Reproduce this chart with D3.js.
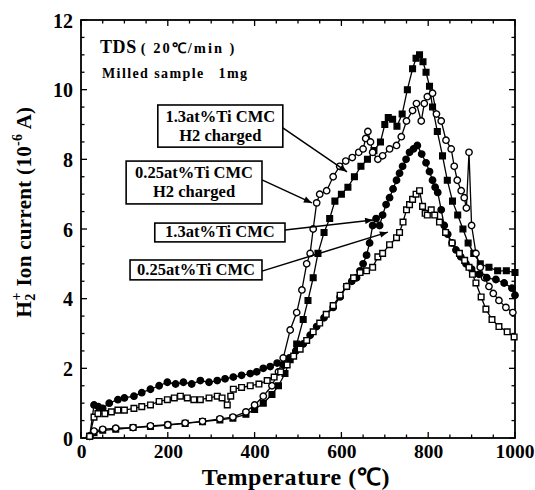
<!DOCTYPE html>
<html><head><meta charset="utf-8">
<script src="https://cdn.jsdelivr.net/npm/d3@7"></script>
<style>body{margin:0;background:#fff}text{font-family:"Liberation Serif","Times New Roman",serif;font-weight:bold;fill:#000}</style>
</head><body><svg id="c" width="535" height="490"></svg>
<script>
// ---- data ----
const xTicks = [0,200,400,600,800,1000];
const yTicks = [0,2,4,6,8,10,12];

// 1.3at%Ti CMC H2 charged (filled squares)
const tA = [20,30,50,80,120,160,200,240,280,320,350,380,400,420,440,455,470,482,497,512,523,535,546,560,573,585,600,615,630,645,660,675,690,700,708,718,728,740,752,764,772,780,788,795,803,810,821,833,844,856,868,880,892,905,920,940,960,980,1000];
const vA = [0.05,0.15,0.22,0.25,0.3,0.33,0.37,0.42,0.47,0.52,0.57,0.68,0.82,1.0,1.25,1.5,1.85,2.25,2.7,3.4,3.95,4.6,5.3,5.9,6.3,6.8,7.0,7.2,7.5,7.8,8.0,8.25,8.5,9.0,9.2,9.15,8.95,9.3,10.0,10.6,10.9,11.0,10.8,10.5,10.1,9.5,8.8,8.1,7.4,6.8,6.4,6.0,5.6,5.3,5.0,4.9,4.8,4.8,4.75];

// 0.25at%Ti CMC H2 charged (open circles)
const tB = [20,30,50,80,120,160,200,240,280,320,350,380,400,420,440,455,466,482,497,509,520,528,535,543,550,566,581,596,610,625,640,650,656,661,667,672,684,695,711,727,738,750,764,773,784,791,798,810,819,830,841,853,860,867,876,883,888,894,900,910,920,930,940,950,963,979,995];
const vB = [0.05,0.2,0.25,0.28,0.3,0.35,0.38,0.43,0.48,0.55,0.6,0.75,0.95,1.2,1.5,1.9,2.3,3.1,3.6,4.25,5.0,5.3,6.0,6.75,7.0,7.1,7.5,7.8,7.95,8.05,8.2,8.3,8.6,8.8,8.5,8.2,8.0,8.1,8.3,8.4,8.65,9.1,9.4,9.6,9.1,9.6,9.8,9.9,9.3,9.1,8.55,8.3,7.8,7.4,7.1,6.9,6.6,8.2,6.1,5.3,4.9,4.6,4.35,4.15,3.95,3.75,3.6];

// 1.3at%Ti CMC (filled circles)
const tC = [20,30,40,50,65,85,100,122,140,160,180,199,218,236,255,275,295,314,332,351,370,390,405,420,436,452,466,480,495,512,528,543,560,581,597,612,624,635,643,650,658,665,672,680,688,695,703,711,719,727,734,741,749,757,766,775,785,795,803,810,816,822,830,837,845,855,864,875,887,900,917,935,956,975,993,1000];
const vC = [0.05,0.95,0.9,0.85,1.0,1.1,1.15,1.2,1.3,1.4,1.5,1.6,1.55,1.6,1.55,1.65,1.6,1.65,1.7,1.75,1.8,1.85,1.9,2.0,2.05,2.15,2.1,2.3,2.5,2.7,2.95,3.2,3.45,3.75,4.05,4.35,4.5,4.6,4.8,5.0,5.25,5.6,6.1,6.3,6.1,6.4,6.7,6.9,7.15,7.4,7.6,7.8,8.0,8.2,8.3,8.4,8.15,7.9,7.65,7.4,7.2,7.05,6.55,6.1,5.85,5.6,5.4,5.2,5.0,4.85,4.7,4.6,4.55,4.45,4.3,4.1];

// 0.25at%Ti CMC (open squares)
const tD = [20,30,39,55,70,85,100,122,140,160,180,199,215,229,245,260,275,295,314,325,337,345,351,370,390,410,429,445,460,475,490,505,520,535,550,565,581,597,612,628,643,658,672,684,695,711,727,734,742,750,757,764,772,780,787,793,798,807,815,826,840,855,872,884,894,902,910,922,933,947,963,982,998];
const vD = [0.05,0.6,0.7,0.7,0.75,0.8,0.8,0.85,0.9,0.95,1.05,1.1,1.15,1.2,1.15,1.1,1.1,1.15,1.2,1.15,0.95,1.2,1.4,1.45,1.5,1.55,1.65,1.75,1.9,2.1,2.35,2.55,2.8,3.05,3.3,3.55,3.8,4.1,4.35,4.6,4.75,4.8,4.9,5.2,5.3,5.55,5.75,5.9,6.2,6.55,6.7,6.85,7.0,7.1,6.65,6.45,6.4,6.55,6.4,6.2,5.9,5.6,5.3,5.1,4.9,4.7,4.45,4.05,3.7,3.4,3.2,3.05,2.9];

// annotations: label lines, box [T0,T1,v0,v1], arrow from [T,v] to [T,v]
const annLabels = [["1.3at%Ti CMC","H2 charged"],["0.25at%Ti CMC","H2 charged"],["1.3at%Ti CMC"],["0.25at%Ti CMC"]];
const annBoxes = [[177,465,9.56,8.35],[104,417,7.95,6.72],[170,470,6.17,5.63],[113,417,5.11,4.54]];
const annArrows = [[[465,8.9],[613,7.64]],[[417,7.41],[532,6.75]],[[470,5.97],[673,6.26]],[[417,4.79],[707,5.91]]];

// ---- drawing ----
const svg = d3.select("#c");
const x = d3.scaleLinear().domain([0,1000]).range([81,515]);
const y = d3.scaleLinear().domain([0,12]).range([438,20]);

// ticks
const g = svg.append("g");
const major = 6, minor = 3.5;
const xMinor = d3.range(0,1001,50), yMinor = d3.range(0,12.01,0.5);
xMinor.forEach(t=>{
  const L = (t%200===0)?major:minor;
  g.append("line").attr("x1",x(t)).attr("x2",x(t)).attr("y1",y(0)).attr("y2",y(0)-L).attr("stroke","#000").attr("stroke-width",1.3);
  g.append("line").attr("x1",x(t)).attr("x2",x(t)).attr("y1",y(12)).attr("y2",y(12)+L).attr("stroke","#000").attr("stroke-width",1.3);
});
yMinor.forEach(v=>{
  const L = (Math.abs(v%2)<1e-6)?major:minor;
  g.append("line").attr("y1",y(v)).attr("y2",y(v)).attr("x1",x(0)).attr("x2",x(0)+L).attr("stroke","#000").attr("stroke-width",1.3);
  g.append("line").attr("y1",y(v)).attr("y2",y(v)).attr("x1",x(1000)).attr("x2",x(1000)-L).attr("stroke","#000").attr("stroke-width",1.3);
});
g.append("rect").attr("x",x(0)).attr("y",y(12)).attr("width",x(1000)-x(0)).attr("height",y(0)-y(12))
  .attr("fill","none").attr("stroke","#000").attr("stroke-width",1.8);

// tick labels via axes
const xAxis = d3.axisBottom(x).tickValues(xTicks).tickFormat(d3.format("d")).tickSize(0).tickPadding(0);
const xa = svg.append("g").attr("transform",`translate(0,${y(0)})`).call(xAxis);
xa.select(".domain").remove();
xa.selectAll("text").attr("font-size",19.5).attr("dy",null).attr("y",20).style("font-family","Liberation Serif").style("font-weight","bold");
xa.selectAll("text").filter(d=>d===1000).attr("text-anchor","end").attr("x",19);
const yAxis = d3.axisLeft(y).tickValues(yTicks).tickFormat(d3.format("d")).tickSize(0).tickPadding(0);
const ya = svg.append("g").attr("transform",`translate(${x(0)-8},0)`).call(yAxis);
ya.select(".domain").remove();
ya.selectAll("text").attr("font-size",20).attr("dy","0.35em").style("font-family","Liberation Serif").style("font-weight","bold");

// axis titles
svg.append("text").attr("x",296).attr("y",485).attr("text-anchor","middle").attr("font-size",24).style("letter-spacing","0.6px")
  .text('Temperature (℃)');
const yl = svg.append("text").attr("transform","translate(31,212) rotate(-90)").attr("text-anchor","middle").attr("font-size",21).style("letter-spacing","0.3px");
yl.append("tspan").text("H");
yl.append("tspan").attr("font-size",14).attr("dy",4).text("2");
yl.append("tspan").attr("font-size",14).attr("dy",-14).attr("dx",-7).text("+");
yl.append("tspan").attr("dy",10).text(" Ion current (10");
yl.append("tspan").attr("font-size",14).attr("dy",-9).text("-6");
yl.append("tspan").attr("dy",9).text(" A)");

// header text
const t1 = svg.append("text").attr("x",100).attr("y",53).attr("font-size",18).style("letter-spacing","0.6px");
t1.append("tspan").text("TDS");
t1.append("tspan").attr("font-size",14.5).attr("dx",4).style("letter-spacing","2px").text("( 20℃/min )");
const t2 = svg.append("text").attr("x",102).attr("y",78).attr("font-size",14).style("letter-spacing","1.4px");
t2.append("tspan").text("Milled sample");
t2.append("tspan").attr("dx",14).text("1mg");

// series
const series = [
  {t:tA,v:vA,shape:"square",fill:"#000"},
  {t:tB,v:vB,shape:"circle",fill:"#fff"},
  {t:tC,v:vC,shape:"circle",fill:"#000"},
  {t:tD,v:vD,shape:"square",fill:"#fff"}
];
const line = d3.line().x(d=>x(d[0])).y(d=>y(d[1]));
series.forEach(s=>{
  const pts = s.t.map((t,i)=>[t,s.v[i]]);
  svg.append("path").attr("d",line(pts)).attr("fill","none").attr("stroke","#000").attr("stroke-width",1.3);
});
series.forEach(s=>{
  const pts = s.t.map((t,i)=>[t,s.v[i]]);
  const sym = d3.symbol().type(s.shape==="square"?d3.symbolSquare:d3.symbolCircle).size(32);
  svg.append("g").selectAll("path").data(pts).join("path")
    .attr("transform",d=>`translate(${x(d[0])},${y(d[1])})`).attr("d",sym)
    .attr("fill",s.fill).attr("stroke","#000").attr("stroke-width",1.4);
});

// annotations
svg.append("defs").append("marker").attr("id","ah").attr("viewBox","0 0 10 10").attr("refX",10).attr("refY",5)
  .attr("markerWidth",10).attr("markerHeight",8).attr("markerUnits","userSpaceOnUse").attr("orient","auto")
  .append("path").attr("d","M0,1 L10,5 L0,9 Z").attr("fill","#000");
annBoxes.forEach((b,i)=>{
  const x0=x(b[0]), x1=x(b[1]), y0=y(b[2]), y1=y(b[3]);
  svg.append("rect").attr("x",x0).attr("y",y0).attr("width",x1-x0).attr("height",y1-y0)
    .attr("fill","#fff").attr("stroke","#000").attr("stroke-width",1.6);
  const lines = annLabels[i];
  const cx=(x0+x1)/2;
  if(lines.length===2){
    svg.append("text").attr("x",cx).attr("y",y0+17).attr("text-anchor","middle").attr("font-size",16.5).text(lines[0]);
    svg.append("text").attr("x",cx).attr("y",y0+36).attr("text-anchor","middle").attr("font-size",16.5).text(lines[1]);
  } else {
    svg.append("text").attr("x",cx).attr("y",y1-4.5).attr("text-anchor","middle").attr("font-size",16.5).text(lines[0]);
  }
  const a = annArrows[i];
  svg.append("line").attr("x1",x(a[0][0])).attr("y1",y(a[0][1])).attr("x2",x(a[1][0])).attr("y2",y(a[1][1]))
    .attr("stroke","#000").attr("stroke-width",1.5).attr("marker-end","url(#ah)");
});
</script></body></html>
